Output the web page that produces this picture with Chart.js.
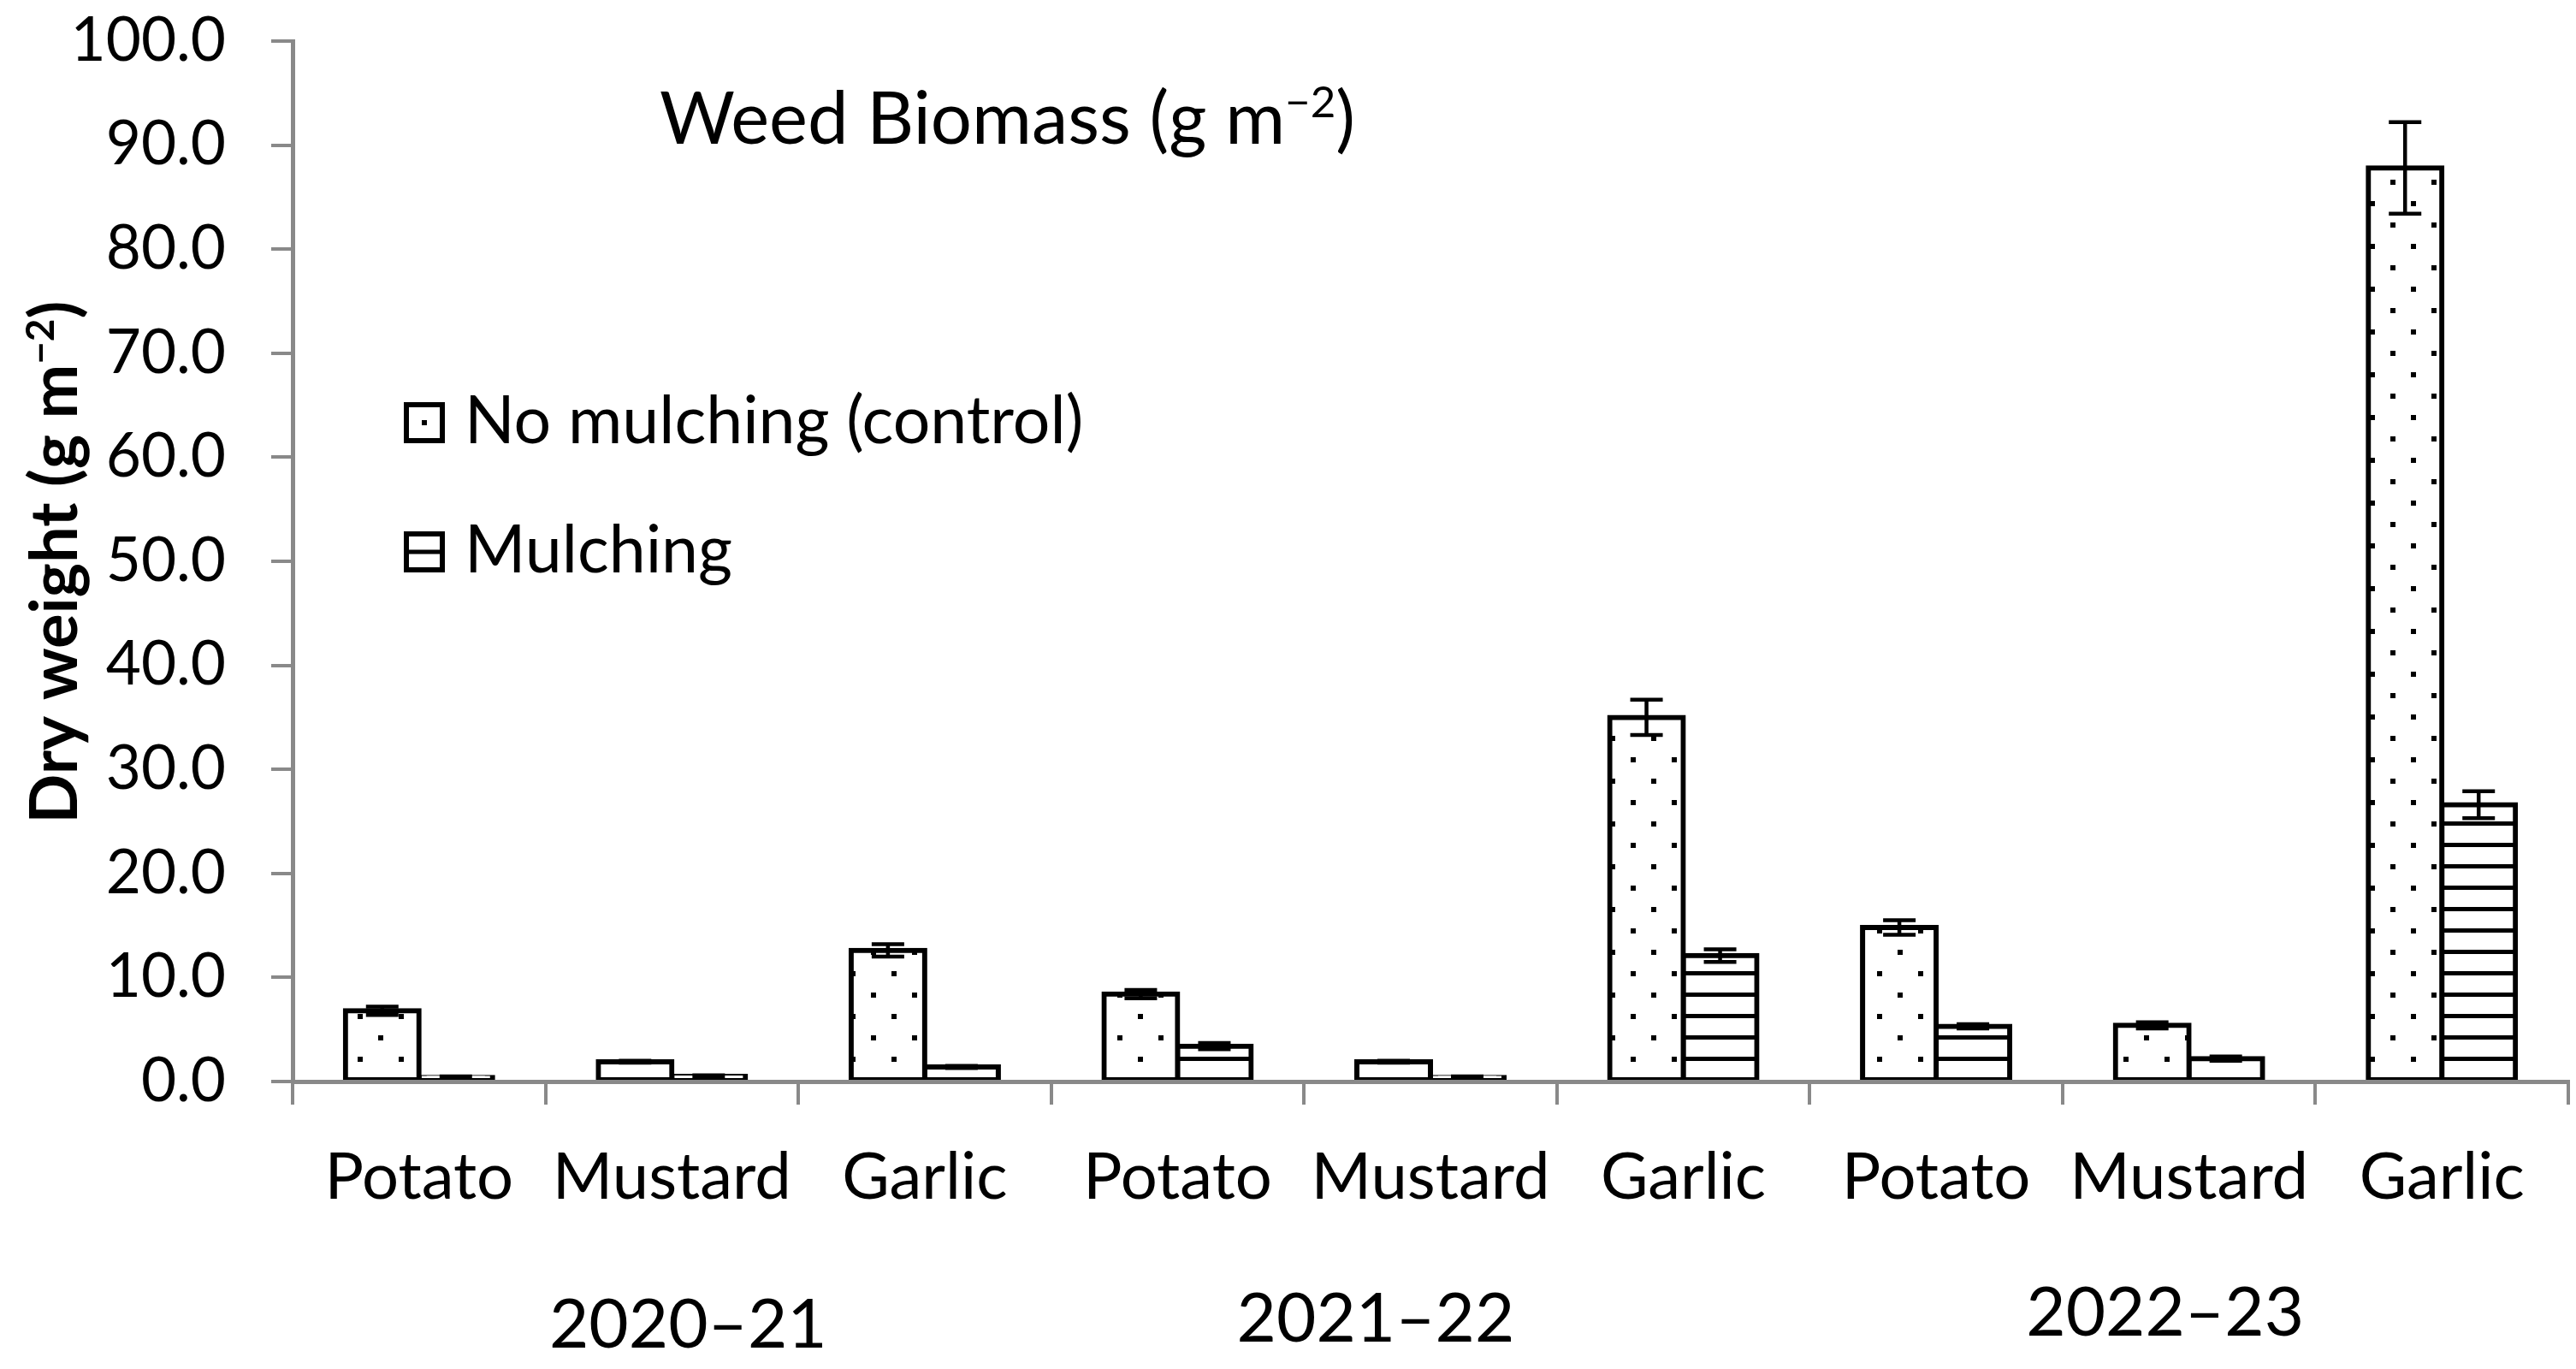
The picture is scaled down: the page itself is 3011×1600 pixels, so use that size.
<!DOCTYPE html>
<html>
<head>
<meta charset="utf-8">
<title>Weed Biomass</title>
<script src="https://cdn.jsdelivr.net/npm/chart.js@4.4.1/dist/chart.umd.min.js"></script>
<style>
  html, body { margin: 0; padding: 0; background: #fff; }
  #wrap { width: 3011px; height: 1600px; }
</style>
</head>
<body>
<div id="wrap"><canvas id="biomassChart" width="3011" height="1600"></canvas></div>
<script>
// Data
const categories = ['Potato', 'Mustard', 'Garlic', 'Potato', 'Mustard', 'Garlic', 'Potato', 'Mustard', 'Garlic'];
const seasons = ['2020\u201321', '2021\u201322', '2022\u201323'];
const controlValues = [6.8, 1.9, 12.6, 8.4, 1.9, 35.0, 14.8, 5.4, 87.8];
const controlErrors = [0.4, 0.1, 0.6, 0.4, 0.1, 1.7, 0.7, 0.3, 4.4];
const mulchValues = [0.4, 0.5, 1.4, 3.4, 0.4, 12.1, 5.3, 2.2, 26.6];
const mulchErrors = [0.1, 0.1, 0.1, 0.3, 0.1, 0.6, 0.2, 0.2, 1.3];
const yTickValues = [0, 10, 20, 30, 40, 50, 60, 70, 80, 90, 100];

const FONT = 'Lato, "Open Sans", sans-serif';
const AXIS_GREY = '#898989';

// Fill patterns (Excel style: dots / horizontal lines)
function makeDotPattern(ctx) {
  const c = document.createElement('canvas');
  c.width = 48; c.height = 50;
  const g = c.getContext('2d');
  g.fillStyle = '#fff';
  g.fillRect(0, 0, c.width, c.height);
  g.fillStyle = '#000';
  g.fillRect(10, 10, 6, 6);
  g.fillRect(34, 35, 6, 6);
  return ctx.createPattern(c, 'repeat');
}

function makeLinePattern(ctx) {
  const c = document.createElement('canvas');
  c.width = 10; c.height = 25;
  const g = c.getContext('2d');
  g.fillStyle = '#fff';
  g.fillRect(0, 0, c.width, c.height);
  g.fillStyle = '#000';
  g.fillRect(0, 10, 10, 5);
  return ctx.createPattern(c, 'repeat');
}

// text with a superscript piece, e.g. g m^-2
function richWidth(ctx, parts, size, weight) {
  let w = 0;
  parts.forEach(p => {
    ctx.font = `${weight} ${p.sup ? Math.round(size * 0.6) : size}px ${FONT}`;
    w += ctx.measureText(p.text).width;
  });
  return w;
}

function drawRich(ctx, parts, x, y, size, weight) {
  let cx = x;
  parts.forEach(p => {
    const s = p.sup ? Math.round(size * 0.6) : size;
    ctx.font = `${weight} ${s}px ${FONT}`;
    ctx.fillText(p.text, cx, p.sup ? y - size * 0.36 : y);
    cx += ctx.measureText(p.text).width;
  });
}

const canvas = document.getElementById('biomassChart');
const ctx = canvas.getContext('2d');

// error bars on top of each bar
const errorBars = {
  id: 'errorBars',
  afterDatasetsDraw(chart) {
    const c = chart.ctx;
    const yScale = chart.scales.y;
    c.save();
    c.strokeStyle = '#000';
    c.lineWidth = 4.5;
    chart.data.datasets.forEach((ds, di) => {
      const meta = chart.getDatasetMeta(di);
      meta.data.forEach((bar, i) => {
        const v = ds.data[i];
        const e = ds.errors[i];
        const top = yScale.getPixelForValue(v + e);
        const bot = yScale.getPixelForValue(Math.max(0, v - e));
        const half = 19;
        c.beginPath();
        c.moveTo(bar.x, top); c.lineTo(bar.x, bot);
        c.moveTo(bar.x - half, top); c.lineTo(bar.x + half, top);
        c.moveTo(bar.x - half, bot); c.lineTo(bar.x + half, bot);
        c.stroke();
      });
    });
    c.restore();
  }
};

// title, legend, axis title and season labels
const annotations = {
  id: 'annotations',
  afterDraw(chart) {
    const c = chart.ctx;
    const xScale = chart.scales.x;
    const bottom = chart.chartArea.bottom;
    c.save();
    c.fillStyle = '#000';
    c.textBaseline = 'alphabetic';
    c.textAlign = 'left';

    // chart title inside plot
    drawRich(c, [{ text: 'Weed Biomass (g m' }, { text: '\u22122', sup: true }, { text: ')' }], 771, 168, 85, 'normal');

    // legend
    const legendY = [470, 621];
    chart.data.datasets.forEach((ds, i) => {
      const bx = 472, by = legendY[i], bs = 48;
      c.fillStyle = '#fff';
      c.fillRect(bx, by, bs, bs);
      c.fillStyle = '#000';
      if (i === 0) {
        c.fillRect(bx + bs / 2 - 3, by + bs / 2 - 3, 6, 6);
      } else {
        c.fillRect(bx, by + bs / 2 - 2.5, bs, 5);
      }
      c.strokeStyle = '#000';
      c.lineWidth = 6;
      c.strokeRect(bx + 3, by + 3, bs - 6, bs - 6);
      c.font = `77px ${FONT}`;
      c.fillText(ds.label, 543, by + 48);
    });

    // y axis title, rotated
    const yParts = [{ text: 'Dry weight (g m' }, { text: '\u22122', sup: true }, { text: ')' }];
    const yw = richWidth(c, yParts, 76, 'bold');
    c.save();
    c.translate(90, 657);
    c.rotate(-Math.PI / 2);
    drawRich(c, yParts, -yw / 2, 0, 76, 'bold');
    c.restore();

    // season labels under the crop labels
    const seasonShift = [19, -64, -28];
    const seasonDrop = [311, 304, 297];
    c.textAlign = 'center';
    c.font = `80px ${FONT}`;
    seasons.forEach((s, k) => {
      const x = xScale.getPixelForValue(k * 3 + 1) + seasonShift[k];
      c.fillText(s, x, bottom + seasonDrop[k]);
    });
    c.restore();
  }
};

new Chart(canvas, {
  type: 'bar',
  data: {
    labels: categories,
    datasets: [
      {
        label: 'No mulching (control)',
        data: controlValues,
        errors: controlErrors,
        backgroundColor: makeDotPattern(ctx),
        borderColor: '#000',
        borderWidth: 6,
        borderSkipped: false,
        inflateAmount: 3
      },
      {
        label: 'Mulching',
        data: mulchValues,
        errors: mulchErrors,
        backgroundColor: makeLinePattern(ctx),
        borderColor: '#000',
        borderWidth: 6,
        borderSkipped: false,
        inflateAmount: 3
      }
    ]
  },
  options: {
    responsive: false,
    devicePixelRatio: 1,
    animation: false,
    layout: {
      padding: { top: 48, right: 9, left: 0, bottom: 0 }
    },
    datasets: {
      bar: {
        categoryPercentage: 0.582,
        barPercentage: 1.0
      }
    },
    plugins: {
      legend: { display: false },
      tooltip: { enabled: false }
    },
    scales: {
      x: {
        offset: true,
        grid: {
          offset: true,
          drawOnChartArea: false,
          tickLength: 27,
          color: AXIS_GREY,
          lineWidth: 4
        },
        border: { color: AXIS_GREY, width: 5, z: 1 },
        ticks: {
          color: '#000',
          font: { family: FONT, size: 76 },
          padding: 40,
          maxRotation: 0,
          autoSkip: false
        },
        afterFit(scale) {
          scale.height = 336;
          scale.paddingLeft = 0;
          scale.paddingRight = 0;
        }
      },
      y: {
        min: 0,
        max: 100,
        afterBuildTicks(axis) {
          axis.ticks = yTickValues.map(v => ({ value: v }));
        },
        ticks: {
          color: '#000',
          font: { family: FONT, size: 71 },
          padding: 53,
          callback: v => Number(v).toFixed(1)
        },
        grid: {
          drawOnChartArea: false,
          tickLength: 25,
          color: AXIS_GREY,
          lineWidth: 4
        },
        border: { color: AXIS_GREY, width: 5 },
        afterFit(scale) {
          scale.width = 342;
          scale.paddingTop = 0;
          scale.paddingBottom = 0;
        }
      }
    }
  },
  plugins: [errorBars, annotations]
});
</script>
</body>
</html>
